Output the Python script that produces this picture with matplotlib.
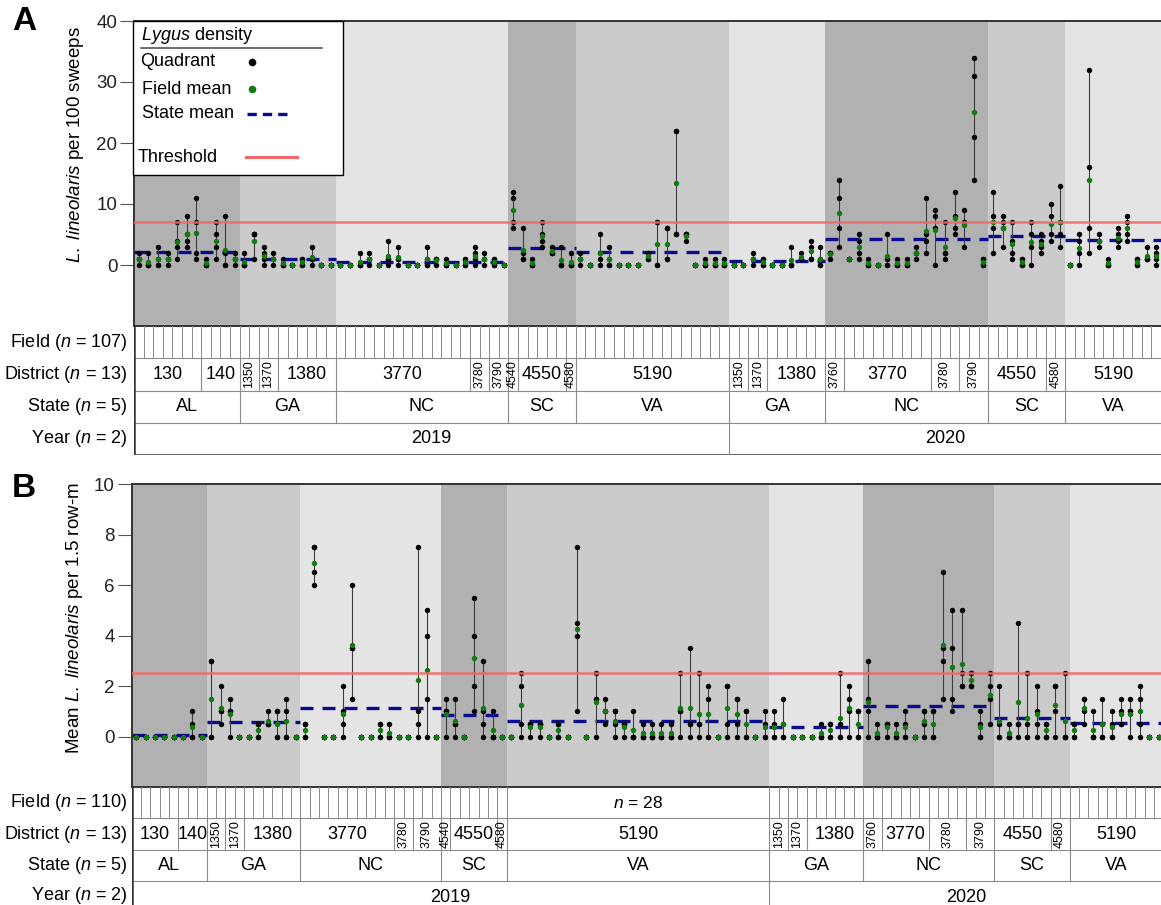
import numpy as np
import matplotlib
matplotlib.use('Agg')
import matplotlib.pyplot as plt
from matplotlib.lines import Line2D
from matplotlib.patches import Rectangle

plt.rcParams['font.family'] = ['Liberation Sans', 'DejaVu Sans']
plt.rcParams['mathtext.fontset'] = 'custom'
plt.rcParams['mathtext.rm'] = 'Liberation Sans'
plt.rcParams['mathtext.it'] = 'Liberation Sans:italic'

# shared hierarchy (same order in both panels)
states = ['AL', 'GA', 'NC', 'SC', 'VA', 'GA', 'NC', 'SC', 'VA']
state_years = ['2019'] * 5 + ['2020'] * 4
districts = ['130', '140', '1350', '1370', '1380', '3770', '3780', '3790', '4540', '4550', '4580', '5190',
             '1350', '1370', '1380', '3760', '3770', '3780', '3790', '4550', '4580', '5190']
district_rotated = [0, 0, 1, 1, 0, 0, 1, 1, 1, 0, 1, 0,
                    1, 1, 0, 1, 0, 1, 1, 0, 1, 0]

# panel A: sweep net counts per quadrant
a_state_nfields = [11, 10, 18, 7, 16, 10, 17, 8, 10]
a_state_means = [2.2, 1.0, 0.5, 2.8, 2.1, 0.65, 4.2, 4.7, 4.1]
a_district_nfields = [7, 4, 2, 2, 6, 14, 2, 2, 1, 5, 1, 16, 2, 2, 6, 2, 9, 3, 3, 6, 2, 10]
a_quadrants = [
    # AL 2019
    [2, 1, 1, 0], [2, 0, 0, 0], [3, 1, 0, 0], [2, 1, 1, 0], [7, 4, 3, 1], [8, 5, 4, 3],
    [11, 7, 2, 1], [1, 0, 0, 0], [7, 5, 3, 1], [8, 2, 0, 0], [2, 1, 1, 0],
    # GA 2019
    [2, 0, 0, 0], [5, 5, 5, 1], [3, 2, 1, 0], [2, 1, 1, 0], [1, 0, 0, 0], [0, 0, 0, 0],
    [1, 1, 0, 0], [3, 1, 1, 0], [0, 0, 0, 0], [0, 0, 0, 0],
    # NC 2019
    [0, 0, 0, 0], [0, 0, 0, 0], [2, 0, 0, 0], [2, 1, 1, 0], [0, 0, 0, 0], [4, 1, 1, 0],
    [3, 1, 1, 0], [0, 0, 0, 0], [0, 0, 0, 0], [3, 1, 0, 0], [1, 1, 1, 0], [1, 0, 0, 0],
    [0, 0, 0, 0], [1, 1, 0, 0], [3, 2, 1, 0], [2, 1, 1, 0], [1, 1, 0, 0], [0, 0, 0, 0],
    # SC 2019
    [12, 11, 7, 6], [6, 2, 1, 1], [1, 0, 0, 0], [7, 5, 4, 3], [3, 2, 2, 2], [3, 0, 0, 0], [2, 0, 0, 0],
    # VA 2019
    [2, 1, 1, 0], [0, 0, 0, 0], [5, 2, 1, 0], [3, 1, 0, 0], [0, 0, 0, 0], [0, 0, 0, 0],
    [0, 0, 0, 0], [2, 2, 1, 1], [7, 7, 0, 0], [6, 6, 1, 1], [22, 22, 5, 5], [5, 5, 5, 4],
    [0, 0, 0, 0], [1, 0, 0, 0], [1, 0, 0, 0], [1, 0, 0, 0],
    # GA 2020
    [0, 0, 0, 0], [0, 0, 0, 0], [2, 1, 1, 0], [1, 1, 0, 0], [0, 0, 0, 0], [0, 0, 0, 0],
    [3, 0, 0, 0], [2, 1, 1, 1], [4, 3, 1, 1], [3, 1, 0, 0],
    # NC 2020
    [2, 2, 2, 1], [14, 11, 6, 3], [1, 1, 1, 1], [5, 4, 2, 1], [1, 0, 0, 0], [0, 0, 0, 0],
    [5, 1, 0, 0], [1, 0, 0, 0], [1, 0, 0, 0], [3, 2, 2, 1], [11, 5, 4, 2], [9, 8, 6, 0],
    [7, 2, 2, 1], [12, 8, 6, 5], [9, 7, 7, 3], [34, 31, 21, 14], [1, 1, 0, 0],
    # SC 2020
    [12, 8, 6, 2], [8, 7, 6, 3], [7, 4, 2, 1], [1, 1, 0, 0], [7, 5, 3, 0], [5, 4, 3, 2],
    [10, 8, 5, 4], [13, 7, 5, 3],
    # VA 2020
    [0, 0, 0, 0], [5, 4, 2, 0], [32, 16, 6, 2], [5, 4, 4, 3], [1, 0, 0, 0], [6, 5, 4, 3],
    [8, 7, 5, 4], [1, 1, 0, 0], [3, 1, 1, 1], [3, 2, 1, 0],
]

# panel B: ground cloth counts per quadrant
b_state_nfields = [8, 10, 15, 7, 28, 10, 14, 8, 10]
b_state_means = [0.05, 0.57, 1.14, 0.85, 0.63, 0.38, 1.22, 0.73, 0.53]
b_district_nfields = [5, 3, 2, 2, 6, 10, 2, 3, 1, 5, 1, 28, 2, 2, 6, 2, 5, 4, 3, 6, 2, 10]
b_quadrants = [
    # AL 2019
    [0, 0, 0, 0], [0, 0, 0, 0], [0, 0, 0, 0], [0, 0, 0, 0], [0, 0, 0, 0], [0, 0, 0, 0],
    [1, 0.5, 0, 0], [0, 0, 0, 0],
    # GA 2019
    [3, 3, 0, 0], [2, 1, 1, 0.5], [1.5, 1, 1, 0], [0, 0, 0, 0], [0, 0, 0, 0], [0.5, 0.5, 0, 0],
    [1, 0.5, 0.5, 0.5], [1, 1, 0, 0], [1.5, 1, 0, 0], [0, 0, 0, 0],
    # NC 2019
    [0.5, 0.5, 0, 0], [7.5, 7.5, 6.5, 6], [0, 0, 0, 0], [0, 0, 0, 0], [2, 1, 0.5, 0],
    [6, 3.5, 3.5, 1.5], [0, 0, 0, 0], [0, 0, 0, 0], [0.5, 0.5, 0, 0], [0.5, 0, 0, 0],
    [0, 0, 0, 0], [0, 0, 0, 0], [7.5, 1, 0.5, 0], [5, 4, 1.5, 0], [0, 0, 0, 0],
    # SC 2019
    [1.5, 1, 1, 0], [1.5, 0.5, 0.5, 0], [0, 0, 0, 0], [5.5, 4, 2, 1], [3, 1, 0.5, 0],
    [1, 0, 0, 0], [0, 0, 0, 0],
    # VA 2019
    [0, 0, 0, 0], [2.5, 2, 0.5, 0], [0.5, 0.5, 0.5, 0], [0.5, 0.5, 0.5, 0], [0, 0, 0, 0],
    [0.5, 0.5, 0, 0], [0, 0, 0, 0], [7.5, 4.5, 4, 1], [0, 0, 0, 0], [2.5, 1.5, 1.5, 0],
    [1.5, 1, 1, 0.5], [1, 1, 0.5, 0], [0.5, 0.5, 0.5, 0], [1, 0, 0, 0], [0.5, 0, 0, 0],
    [0.5, 0, 0, 0], [0.5, 0, 0, 0], [0.5, 0, 0, 0], [2.5, 1, 1, 0], [3.5, 0.5, 0.5, 0],
    [2.5, 0.5, 0.5, 0], [2, 1.5, 0, 0], [0, 0, 0, 0], [2, 2, 0.5, 0], [1.5, 1.5, 0.5, 0],
    [1, 1, 0, 0], [0, 0, 0, 0], [1, 0.5, 0, 0],
    # GA 2020
    [1, 0.5, 0, 0], [1.5, 0.5, 0, 0], [0, 0, 0, 0], [0, 0, 0, 0], [0, 0, 0, 0],
    [0.5, 0, 0, 0], [0.5, 0.5, 0, 0], [2.5, 0.5, 0, 0], [2, 1.5, 1, 0], [1, 1, 0, 0],
    # NC 2020
    [3, 1.5, 1, 0], [0.5, 0, 0, 0], [0.5, 0.5, 0.5, 0], [0.5, 0, 0, 0], [1, 0.5, 0, 0],
    [0, 0, 0, 0], [1, 1, 0.5, 0], [1, 1, 0, 0], [6.5, 3.5, 3, 1.5], [5, 3.5, 1.5, 1],
    [5, 2.5, 2, 2], [2.5, 2.5, 2, 2], [1, 0.5, 0, 0], [2.5, 2, 1.5, 0.5],
    # SC 2020
    [2, 0.5, 0, 0], [0.5, 0, 0, 0], [4.5, 0.5, 0.5, 0], [2.5, 0.5, 0, 0], [2, 1, 0.5, 0],
    [0.5, 0.5, 0, 0], [2, 2, 1, 0], [2.5, 0, 0, 0],
    # VA 2020
    [0.5, 0.5, 0, 0], [1.5, 1.5, 1, 0.5], [1, 0, 0, 0], [1.5, 0.5, 0, 0], [1, 0.5, 0, 0],
    [1.5, 1, 0.5, 0.5], [1.5, 1, 1, 0], [2, 1.5, 0.5, 0], [0, 0, 0, 0], [0, 0, 0, 0],
]
b_unticked = (40, 68)   # VA 2019 fields shown as a single block

W, H = 1161, 905
fig = plt.figure(figsize=(W / 100, H / 100), dpi=100)

shades = ['#b1b1b1', '#cbcbcb', '#e4e4e4']
GREEN = '#137a13'
NAVY = '#0b0b8c'
RED = '#f06a6a'
GRID = '#8c8c8c'
DARK = '#333333'
dash = (0, (3.9, 2.7))


def fx(px):
    return px / W


def fy(py):
    return 1 - py / H


def draw_panel(top, bottom, row_h, left, fw, quads, st_nf, st_means, d_nf,
               thr, ylim, yticks, n_field, gap=None):
    n = len(quads)
    width = fw * n
    ax = fig.add_axes([fx(left), fy(bottom), width / W, (bottom - top) / H])
    tab = fig.add_axes([fx(left), fy(bottom + 4 * row_h), width / W, 4 * row_h / H])

    st_edges = np.concatenate([[0], np.cumsum(st_nf)])
    d_edges = np.concatenate([[0], np.cumsum(d_nf)])

    for k in range(len(st_nf)):
        ax.axvspan(st_edges[k], st_edges[k + 1], color=shades[k % 3], lw=0, zorder=0)
        ax.hlines(st_means[k], st_edges[k], st_edges[k + 1], colors=NAVY, lw=2.4,
                  linestyles=[dash], zorder=2)
    ax.axhline(thr, color=RED, lw=1.8, alpha=0.9, zorder=4)

    for i, q in enumerate(quads):
        x = i + 0.5
        if max(q) > min(q):
            ax.vlines(x, min(q), max(q), color='#3c3c3c', lw=0.8, zorder=2.5)
        ax.plot([x] * len(q), q, 'o', color='black', ms=3.9, mew=0, zorder=3)
        ax.plot(x, np.mean(q), 'o', color=GREEN, ms=3.9, mew=0, zorder=3.5)

    ax.set_xlim(0, n)
    ax.set_ylim(*ylim)
    ax.set_yticks(yticks)
    ax.set_xticks([])
    ax.tick_params(axis='y', direction='out', length=10, width=0.8, color='#555555',
                   labelsize=13.5, pad=2, labelcolor='#222222')
    ax.spines['right'].set_visible(False)
    for s in ('left', 'top', 'bottom'):
        ax.spines[s].set_color(DARK)
        ax.spines[s].set_linewidth(1.4)

    # hierarchy table
    tab.set_xlim(0, n)
    tab.set_ylim(0, 4)
    tab.axis('off')
    for yy in (1, 2, 3):
        tab.axhline(yy, color=GRID, lw=0.8)
    tab.axhline(0, color=DARK, lw=1.8)
    tab.axvline(0, color=DARK, lw=1.8)
    for e in range(1, n):
        if gap is not None and gap[0] < e < gap[1]:
            continue
        tab.plot([e, e], [3, 4], color=GRID, lw=0.7)
    if gap is not None:
        tab.text((gap[0] + gap[1]) / 2, 3.5, r'$\mathit{n}$ = %d' % (gap[1] - gap[0]),
                 ha='center', va='center', fontsize=12.5)
    for e in d_edges[1:-1]:
        tab.plot([e, e], [2, 3], color=GRID, lw=0.8)
    for e in st_edges[1:-1]:
        tab.plot([e, e], [1, 2], color=GRID, lw=0.8)
    for k, lab in enumerate(districts):
        xc = (d_edges[k] + d_edges[k + 1]) / 2
        if district_rotated[k]:
            tab.text(xc, 2.5, lab, rotation=90, ha='center', va='center', fontsize=9)
        else:
            tab.text(xc, 2.5, lab, ha='center', va='center', fontsize=13)
    for k, lab in enumerate(states):
        tab.text((st_edges[k] + st_edges[k + 1]) / 2, 1.5, lab, ha='center', va='center', fontsize=13)
    years = sorted(set(state_years))
    for yr in years:
        idx = [k for k, s in enumerate(state_years) if s == yr]
        x0, x1 = st_edges[idx[0]], st_edges[idx[-1] + 1]
        tab.text((x0 + x1) / 2, 0.5, yr, ha='center', va='center', fontsize=13)
        if x0 > 0:
            tab.plot([x0, x0], [0, 1], color=GRID, lw=0.8)

    row_labels = [r'Field ($\mathit{n}$ = %d)' % n_field,
                  r'District ($\mathit{n}$ = %d)' % len(set(districts)),
                  r'State ($\mathit{n}$ = %d)' % len(set(states)),
                  r'Year ($\mathit{n}$ = %d)' % len(years)]
    for r, lab in enumerate(row_labels):
        yc = min(bottom + row_h * (r + 0.5), H - 10)
        fig.text(fx(127), fy(yc), lab, ha='right', va='center', fontsize=13)
    return ax


axA = draw_panel(21, 326, 32.25, 134, (1161 - 134) / 107, a_quadrants, a_state_nfields,
                 a_state_means, a_district_nfields, 7, (-10, 40), [0, 10, 20, 30, 40], 107)
axB = draw_panel(484, 787, 31.5, 131.5, 9.38, b_quadrants, b_state_nfields,
                 b_state_means, b_district_nfields, 2.5, (-2, 10), [0, 2, 4, 6, 8, 10], 110,
                 gap=b_unticked)

fig.text(fx(75), fy(145), r'$\mathit{L.\ lineolaris}$ per 100 sweeps', rotation=90,
         ha='center', va='center', fontsize=13.5)
fig.text(fx(75), fy(618), r'Mean $\mathit{L.\ lineolaris}$ per 1.5 row-m', rotation=90,
         ha='center', va='center', fontsize=13.5)
fig.text(fx(24), fy(22), 'A', fontsize=24, fontweight='bold', ha='center', va='center')
fig.text(fx(24), fy(488), 'B', fontsize=24, fontweight='bold', ha='center', va='center')

# legend box drawn in figure pixel space
leg = Rectangle((fx(133), fy(175)), (343 - 133) / W, (175 - 21) / H, transform=fig.transFigure,
                facecolor='white', edgecolor='black', lw=1.0, zorder=10)
fig.add_artist(leg)
fig.text(fx(141), fy(36), r'$\mathit{Lygus}$ density', ha='left', va='center', fontsize=13, zorder=11)
fig.add_artist(Line2D([fx(141), fx(322)], [fy(48), fy(48)], transform=fig.transFigure,
                      color='#555555', lw=1.2, zorder=11))
fig.text(fx(140), fy(62), 'Quadrant', ha='left', va='center', fontsize=13, zorder=11)
fig.add_artist(Line2D([fx(252)], [fy(62)], transform=fig.transFigure, marker='o', ls='',
                      color='black', ms=5.5, mew=0, zorder=11))
fig.text(fx(142), fy(89), 'Field mean', ha='left', va='center', fontsize=13, zorder=11)
fig.add_artist(Line2D([fx(252)], [fy(89)], transform=fig.transFigure, marker='o', ls='',
                      color=GREEN, ms=5.5, mew=0, zorder=11))
fig.text(fx(142), fy(114), 'State mean', ha='left', va='center', fontsize=13, zorder=11)
fig.add_artist(Line2D([fx(247), fx(292)], [fy(114), fy(114)], transform=fig.transFigure,
                      color=NAVY, lw=2.4, ls=(0, (2.8, 1.8)), zorder=11))
fig.text(fx(138), fy(157), 'Threshold', ha='left', va='center', fontsize=13, zorder=11)
fig.add_artist(Line2D([fx(246), fx(297)], [fy(157), fy(157)], transform=fig.transFigure,
                      color=RED, lw=2.2, zorder=11))

fig.savefig('out.png', dpi=100)
